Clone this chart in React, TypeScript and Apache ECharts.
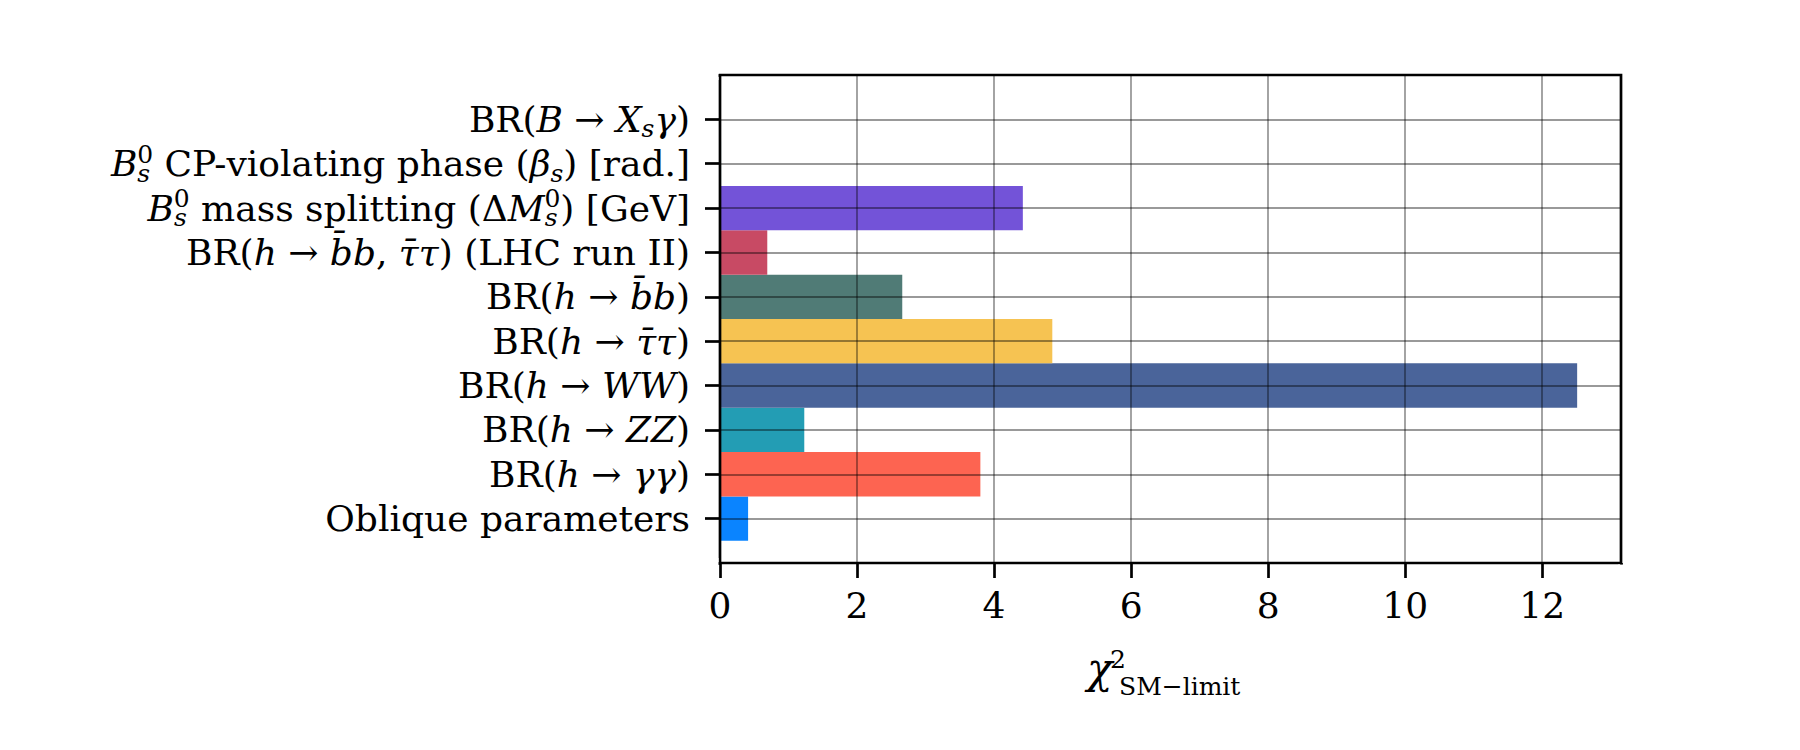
import React, { useEffect, useRef } from "react";
import * as echarts from "echarts";

// Categories, bottom (index 0) to top (index 9), as rich-text markup
const categories: string[] = [
  "{r|Oblique parameters}",
  "{r|BR(}{i|h}{r| → }{i|γγ}{r|)}",
  "{r|BR(}{i|h}{r| → }{i|ZZ}{r|)}",
  "{r|BR(}{i|h}{r| → }{i|WW}{r|)}",
  "{r|BR(}{i|h}{r| → }{i|τ̄τ}{r|)}",
  "{r|BR(}{i|h}{r| → }{i|b̄b}{r|)}",
  "{r|BR(}{i|h}{r| → }{i|b̄b}{r|, }{i|τ̄τ}{r|) (LHC run II)}",
  "{i|B}{sb|s}{spn|0}{r| mass splitting (Δ}{i|M}{sb|s}{spn|0}{r|) [GeV]}",
  "{i|B}{sb|s}{spn|0}{r| CP-violating phase (}{i|β}{sb|s}{r|) [rad.]}",
  "{r|BR(}{i|B}{r| → }{i|X}{sb|s}{i|γ}{r|)}",
];

const chi2Values: number[] = [0.41, 3.8, 1.23, 12.51, 4.85, 2.66, 0.69, 4.42, 0.015, 0.003];

const barColors: string[] = [
  "#0A84FF",
  "#FD6451",
  "#239DB4",
  "#4A649A",
  "#F6C352",
  "#507B76",
  "#C84A64",
  "#7353D8",
  "#1FA0B0",
  "#2A9D8F",
];

const xTickLabels: number[] = [0, 2, 4, 6, 8, 10, 12];

const xTitleMain = "χ";
const xTitleSup = "2";
const xTitleSub = "SM−limit";

const FONT = "DejaVu Serif";

export default function App() {
  const ref = useRef<HTMLDivElement>(null);

  useEffect(() => {
    if (!ref.current) return;
    const chart = echarts.init(ref.current, undefined, { renderer: "svg" });

    // one empty slot below and above the categories (matplotlib-like margins)
    const yData = ["", ...categories, ""];

    const labelRich = {
      r: { fontFamily: FONT, fontSize: 36, color: "#000", lineHeight: 44 },
      i: { fontFamily: FONT, fontSize: 36, fontStyle: "italic", color: "#000", lineHeight: 44 },
      sb: { fontFamily: FONT, fontSize: 25, fontStyle: "italic", color: "#000", verticalAlign: "bottom", lineHeight: 24 },
      spn: { fontFamily: FONT, fontSize: 25, color: "#000", verticalAlign: "top", lineHeight: 24, padding: [0, 0, 0, -13] },
    };

    const cover = (x: number, y: number, w: number, h: number) => ({
      type: "rect",
      shape: { x, y, width: w, height: h },
      style: { fill: "#fff" },
      z: 100,
      silent: true,
    });

    const option: any = {
      animation: false,
      backgroundColor: "#fff",
      grid: {
        left: 720,
        right: 179,
        top: 75,
        bottom: 187,
        show: true,
        borderColor: "#000",
        borderWidth: 2.7,
        backgroundColor: "transparent",
        z: 4,
      },
      xAxis: {
        type: "value",
        min: 0,
        max: 13.15,
        interval: 2,
        z: 3,
        axisLine: { show: false },
        axisTick: { show: true, inside: false, length: 15, lineStyle: { color: "#000", width: 2.7 } },
        axisLabel: { fontFamily: FONT, fontSize: 36, color: "#000", margin: 24, customValues: xTickLabels },
        splitLine: { show: true, lineStyle: { color: "rgba(0,0,0,0.4)", width: 1.8 } },
      },
      yAxis: {
        type: "category",
        data: yData,
        boundaryGap: false,
        z: 3,
        axisLine: { show: false },
        axisTick: { show: true, inside: false, length: 15, interval: 0, lineStyle: { color: "#000", width: 2.7 } },
        axisLabel: { margin: 30, interval: 0, rich: labelRich },
        splitLine: { show: true, interval: 0, lineStyle: { color: "rgba(0,0,0,0.4)", width: 1.8 } },
      },
      graphic: [
        // hide the ticks ECharts draws at the axis ends (frame corners)
        cover(1618, 564.6, 8, 18),
        cover(696, 70, 22.5, 10),
        cover(696, 558, 22.5, 10),
        // x-axis title: χ²_{SM−limit}
        {
          type: "text",
          x: 1087,
          y: 668,
          z: 10,
          style: { text: xTitleMain, font: `italic 42px "${FONT}"`, fill: "#000", align: "left", verticalAlign: "middle" },
        },
        {
          type: "text",
          x: 1110,
          y: 659,
          z: 10,
          style: { text: xTitleSup, font: `25px "${FONT}"`, fill: "#000", align: "left", verticalAlign: "middle" },
        },
        {
          type: "text",
          x: 1119,
          y: 686,
          z: 10,
          style: { text: xTitleSub, font: `25px "${FONT}"`, fill: "#000", align: "left", verticalAlign: "middle" },
        },
      ],
      series: [
        {
          type: "custom",
          z: 2,
          encode: { x: 0, y: 1 },
          data: chi2Values.map((v, i) => ({ value: [v, i + 1], itemStyle: { color: barColors[i] } })),
          renderItem: (params: any, api: any) => {
            const v = api.value(0);
            const idx = api.value(1);
            const band = api.size([0, 1])[1];
            const p0 = api.coord([0, idx]);
            const p1 = api.coord([v, idx]);
            return {
              type: "rect",
              shape: { x: p0[0], y: p0[1] - band / 2, width: p1[0] - p0[0], height: band },
              style: { fill: api.visual("color") },
            };
          },
        },
      ],
    };

    chart.setOption(option);
    return () => chart.dispose();
  }, []);

  return (
    <div ref={ref} style={{ position: "fixed", left: 0, top: 0, width: 1800, height: 750, background: "#fff" }} />
  );
}
